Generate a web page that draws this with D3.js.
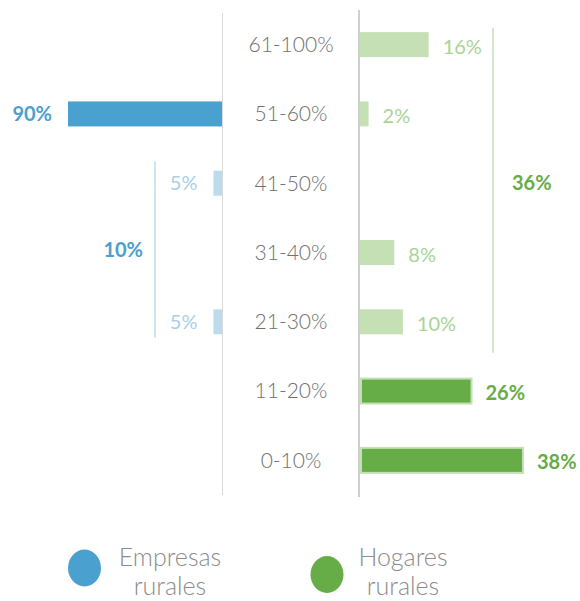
<!DOCTYPE html>
<html>
<head>
<meta charset="utf-8">
<script src="https://cdn.jsdelivr.net/npm/d3@7"></script>
<style>
  body { margin: 0; background: #fff; }
  svg { display: block; font-family: Lato, "Open Sans", sans-serif; }
</style>
</head>
<body>
<script>
// données
const categories = ["61-100%", "51-60%", "41-50%", "31-40%", "21-30%", "11-20%", "0-10%"];
const empresas = [0, 90, 5, 0, 5, 0, 0];
const hogares = [16, 2, 0, 8, 10, 26, 38];
const empresasFocus = ["51-60%"];
const hogaresFocus = ["11-20%", "0-10%"];
// regroupements (accolades)
const empresasGroup = { from: "41-50%", to: "21-30%", total: 10 };
const hogaresGroup = { from: "61-100%", to: "21-30%", total: 36 };
const legendItems = [
  { lines: ["Empresas", "rurales"], color: "#4aa0cf" },
  { lines: ["Hogares", "rurales"], color: "#67ad47" }
];

const W = 580, H = 601;
const blue = "#4aa0cf", blueLight = "#bcdcee", blueText = "#a6d0ea";
const green = "#67ad47", greenLight = "#c5e0b4", greenText = "#a9d494";

const svg = d3.select("body").append("svg").attr("width", W).attr("height", H);

const y = d3.scaleBand().domain(categories).range([10, 495]);
const yc = c => y(c) + y.bandwidth() / 2;

const xL = d3.scaleLinear().domain([0, 90]).range([222, 68]);
const xR = d3.scaleLinear().domain([0, 38]).range([360, 523]);

const barH = 25;
const rows = categories.map((c, i) => ({ cat: c, e: empresas[i], h: hogares[i] }));

// axes verticaux
svg.append("line").attr("x1", 222.5).attr("x2", 222.5).attr("y1", 13).attr("y2", 495)
  .attr("stroke", "#d9d9d9").attr("stroke-width", 1);
svg.append("line").attr("x1", 359).attr("x2", 359).attr("y1", 10).attr("y2", 497)
  .attr("stroke", "#cfcfcf").attr("stroke-width", 2);

// barres empresas
const eRows = rows.filter(d => d.e > 0);
svg.selectAll(".bar-e").data(eRows).join("rect")
  .attr("class", "bar-e")
  .attr("x", d => xL(d.e))
  .attr("width", d => xL(0) - xL(d.e))
  .attr("y", d => yc(d.cat) - barH / 2)
  .attr("height", barH)
  .attr("fill", d => empresasFocus.includes(d.cat) ? blue : blueLight);

svg.selectAll(".lab-e").data(eRows).join("text")
  .attr("class", "lab-e")
  .attr("x", d => xL(d.e) - 16)
  .attr("y", d => yc(d.cat))
  .attr("dy", "0.35em")
  .attr("text-anchor", "end")
  .attr("font-size", 20)
  .attr("font-weight", d => empresasFocus.includes(d.cat) ? "bold" : "normal")
  .attr("fill", d => empresasFocus.includes(d.cat) ? blue : blueText)
  .text(d => d.e + "%");

// barres hogares
const hRows = rows.filter(d => d.h > 0);
svg.selectAll(".bar-h").data(hRows).join("rect")
  .attr("class", "bar-h")
  .attr("x", d => xR(0) + (hogaresFocus.includes(d.cat) ? 1 : 0))
  .attr("width", d => xR(d.h) - xR(0) - (hogaresFocus.includes(d.cat) ? 1 : 0))
  .attr("y", d => yc(d.cat) - barH / 2)
  .attr("height", barH)
  .attr("fill", d => hogaresFocus.includes(d.cat) ? green : greenLight)
  .attr("stroke", d => hogaresFocus.includes(d.cat) ? greenLight : "none")
  .attr("stroke-width", 2);

svg.selectAll(".lab-h").data(hRows).join("text")
  .attr("class", "lab-h")
  .attr("x", d => xR(d.h) + 14)
  .attr("y", d => yc(d.cat) + 2)
  .attr("dy", "0.35em")
  .attr("font-size", 20)
  .attr("font-weight", d => hogaresFocus.includes(d.cat) ? "bold" : "normal")
  .attr("fill", d => hogaresFocus.includes(d.cat) ? green : greenText)
  .text(d => d.h + "%");

// catégories au centre
svg.selectAll(".cat").data(categories).join("text")
  .attr("class", "cat")
  .attr("x", 291)
  .attr("y", d => yc(d))
  .attr("dy", "0.35em")
  .attr("text-anchor", "middle")
  .attr("font-size", 21)
  .attr("font-weight", 300)
  .attr("fill", "#707070")
  .text(d => d);

// accolade empresas
const eTop = yc(empresasGroup.from) - 22, eBot = yc(empresasGroup.to) + 16;
svg.append("line").attr("x1", 155).attr("x2", 155).attr("y1", eTop).attr("y2", eBot)
  .attr("stroke", blueLight).attr("stroke-width", 1.5);
svg.append("text")
  .attr("x", 143).attr("y", (eTop + eBot) / 2)
  .attr("dy", "0.35em").attr("text-anchor", "end")
  .attr("font-size", 20).attr("font-weight", "bold").attr("fill", blue)
  .text(empresasGroup.total + "%");

// accolade hogares
const hTop = yc(hogaresGroup.from) - 17, hBot = yc(hogaresGroup.to) + 31;
svg.append("line").attr("x1", 493).attr("x2", 493).attr("y1", hTop).attr("y2", hBot)
  .attr("stroke", greenLight).attr("stroke-width", 1.5);
svg.append("text")
  .attr("x", 512).attr("y", yc("41-50%"))
  .attr("dy", "0.35em")
  .attr("font-size", 20).attr("font-weight", "bold").attr("fill", green)
  .text(hogaresGroup.total + "%");

// légende
const legendPos = [{ cx: 84.5, cy: 568, tx: 170 }, { cx: 327, cy: 574.5, tx: 403 }];
legendItems.forEach((item, i) => {
  const p = legendPos[i];
  svg.append("ellipse").attr("cx", p.cx).attr("cy", p.cy).attr("rx", 16.5).attr("ry", 18.5)
    .attr("fill", item.color);
  const t = svg.append("text").attr("x", p.tx).attr("y", 566)
    .attr("text-anchor", "middle").attr("font-size", 25).attr("font-weight", 300)
    .attr("fill", "#8c8c8c");
  item.lines.forEach((l, j) => {
    t.append("tspan").attr("x", p.tx).attr("dy", j === 0 ? 0 : 29).text(l);
  });
});
</script>
</body>
</html>
